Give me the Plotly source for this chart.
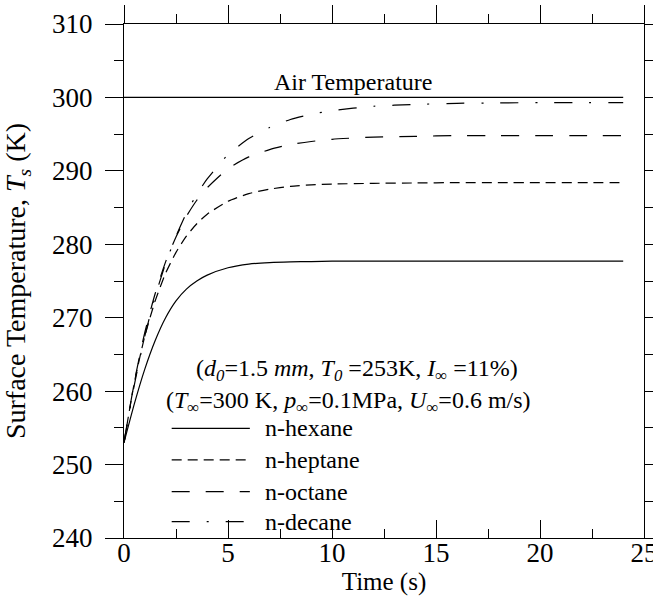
import plotly.graph_objects as go

# ---- data ----
time_s = [0, 0.5, 1, 1.5, 2, 2.5, 3, 3.5, 4, 5, 6, 7, 8, 9, 10, 12, 14, 16, 18, 20, 22, 24]
hexane = [253.0, 258.3, 263.0, 266.9, 270.0, 272.3, 273.9, 275.0, 275.8, 276.8, 277.3, 277.5,
          277.6, 277.65, 277.7, 277.7, 277.7, 277.7, 277.7, 277.7, 277.7, 277.7]
heptane = [253.0, 261.2, 267.5, 272.3, 276.05, 278.9, 281.1, 282.8, 284.1, 285.85, 286.9, 287.5,
           287.9, 288.1, 288.2, 288.3, 288.35, 288.4, 288.4, 288.4, 288.4, 288.4]
octane = [253.0, 261.3, 268.0, 273.3, 277.6, 281.0, 283.8, 286.0, 287.7, 290.3, 291.9, 292.9,
          293.6, 294.0, 294.3, 294.6, 294.7, 294.8, 294.8, 294.8, 294.8, 294.8]
decane = [253.0, 260.9, 267.5, 272.9, 277.4, 281.1, 284.25, 286.8, 288.9, 292.2, 294.4, 295.9,
          297.0, 297.7, 298.2, 298.8, 299.05, 299.2, 299.25, 299.3, 299.3, 299.3]
air_time = [0, 24]
air_temp = [300, 300]

series_names = ["n-hexane", "n-heptane", "n-octane", "n-decane"]
x_ticks = [0, 5, 10, 15, 20, 25]
y_ticks = [240, 250, 260, 270, 280, 290, 300, 310]

FONT = "Liberation Serif, Times New Roman, serif"
dashes = ["solid", "10px,6px", "18px,16px", "18px,17px,2px,17px"]
series = [hexane, heptane, octane, decane]

fig = go.Figure()
for name, vals, d in zip(series_names, series, dashes):
    fig.add_trace(go.Scatter(x=time_s, y=vals, mode="lines", name=name,
                             line=dict(color="black", width=1.2, dash=d, shape="spline", smoothing=0.6),
                             showlegend=False))

fig.add_trace(go.Scatter(x=air_time, y=air_temp, mode="lines", name="Air Temperature",
                         xaxis="x2", line=dict(color="black", width=1.2), showlegend=False))

axis_common = dict(showline=True, linecolor="black", linewidth=1, showgrid=False, zeroline=False,
                   tickcolor="black", tickwidth=1, automargin=False)

fig.update_layout(
    width=653, height=604,
    margin=dict(l=124, r=9, t=24, b=66, autoexpand=False),
    paper_bgcolor="white", plot_bgcolor="white",
    font=dict(family=FONT, size=24, color="black"),
    xaxis=dict(range=[0, 25], tickvals=x_ticks, ticks="inside", ticklen=18,
               minor=dict(dtick=2.5, ticks="inside", ticklen=9, tickcolor="black"),
               title=dict(text="Time (s)", standoff=2, font=dict(size=25)),
               tickfont=dict(size=27), ticklabelstandoff=-9, ticklabeloverflow="allow",
               **axis_common),
    xaxis2=dict(range=[0, 25], overlaying="x", side="top", tickvals=x_ticks, ticks="outside",
                ticklen=18, showticklabels=False,
                minor=dict(dtick=2.5, ticks="outside", ticklen=9, tickcolor="black"),
                **axis_common),
    yaxis=dict(range=[240, 310], tickvals=y_ticks, ticks="outside", ticklen=18, mirror="ticks",
               minor=dict(dtick=5, ticks="outside", ticklen=9, tickcolor="black"),
               title=dict(text="Surface Temperature, <i>T</i><sub><i>s</i></sub> (K)", standoff=27,
                          font=dict(size=28)),
               tickfont=dict(size=27), ticklabelstandoff=7, **axis_common),
)

# Air temperature label
fig.add_annotation(x=11.0, y=300, xref="x", yref="y", text="Air Temperature", showarrow=False,
                   yanchor="bottom", yshift=0, font=dict(size=24))

# parameter text
fig.add_annotation(x=0.449, y=0.327, xref="paper", yref="paper", showarrow=False,
                   xanchor="center", yanchor="middle",
                   text="(<i>d</i><sub><i>0</i></sub>=1.5 <i>mm</i>, <i>T</i><sub><i>0</i></sub> =253K, <i>I</i><sub>∞</sub> =11%)",
                   font=dict(size=24))
fig.add_annotation(x=0.431, y=0.265, xref="paper", yref="paper", showarrow=False,
                   xanchor="center", yanchor="middle",
                   text="(<i>T</i><sub>∞</sub>=300 K, <i>p</i><sub>∞</sub>=0.1MPa, <i>U</i><sub>∞</sub>=0.6 m/s)",
                   font=dict(size=24))

# manual legend
leg_y = [0.2134, 0.1518, 0.0901, 0.0317]
for name, d, yy in zip(series_names, dashes, leg_y):
    fig.add_shape(type="line", xref="paper", yref="paper", x0=0.0917, x1=0.242, y0=yy, y1=yy,
                  line=dict(color="black", width=1.2, dash=d))
    fig.add_annotation(x=0.268, y=yy, xref="paper", yref="paper", text=name, showarrow=False,
                       xanchor="left", yanchor="middle", font=dict(size=24))

fig.write_html("out.html", config={"displayModeBar": False},
               post_script="document.body.style.margin='0';")
